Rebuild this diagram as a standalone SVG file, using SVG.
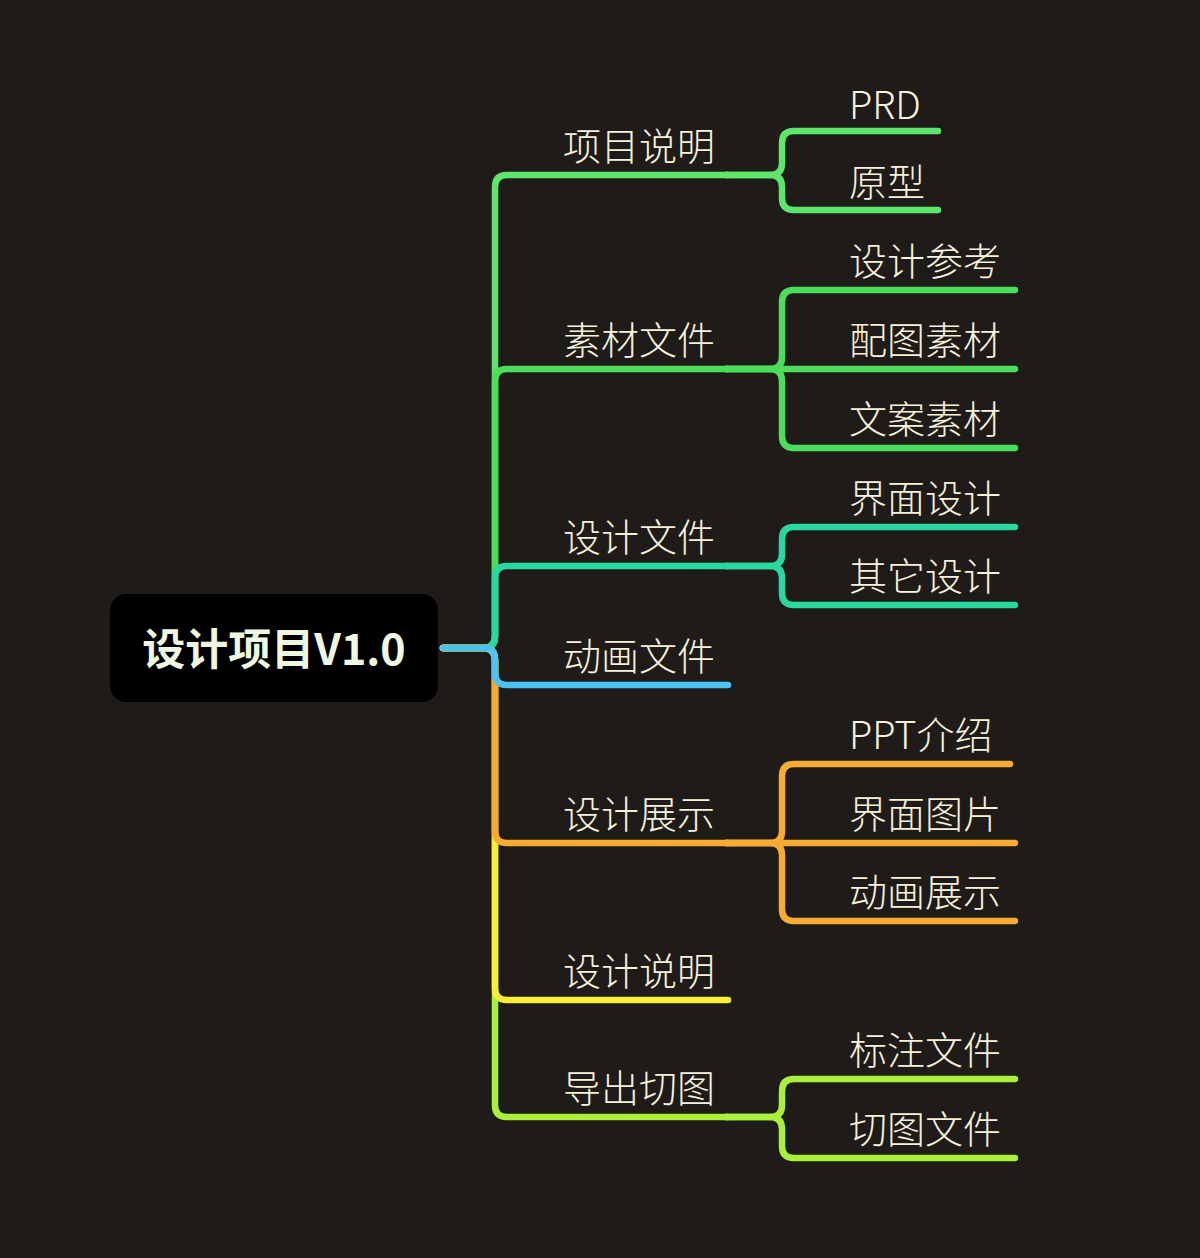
<svg xmlns="http://www.w3.org/2000/svg" width="1200" height="1258" viewBox="0 0 1200 1258">
<style>
.c{fill:none;stroke-width:6.5;stroke-linecap:round;stroke-linejoin:round}
.t{font-family:"Noto Sans CJK SC","Noto Sans",sans-serif;font-size:38px;font-weight:300;fill:#f7f2dc}
.root{font-family:"Noto Sans CJK SC","Noto Sans",sans-serif;font-size:43px;font-weight:bold;fill:#eef8e0}
.g1{stroke:#5ee66c}.g2{stroke:#4ddd5c}.g3{stroke:#28d8a0}.g4{stroke:#4cc2f5}.g5{stroke:#f8ab33}.g6{stroke:#f8ee3a}.g7{stroke:#a8f03c}
</style>
<rect width="1200" height="1258" fill="#1f1b19"/>
<g id="connectors">
<path class="c g1" d="M443 648 H483 Q495 648 495 636 V187 Q495 175 507 175 H728"/>
<path class="c g2" d="M443 648 H483 Q495 648 495 636 V381 Q495 369 507 369 H728"/>
<path class="c g3" d="M443 648 H483 Q495 648 495 636 V578 Q495 566 507 566 H728"/>
<path class="c g7" d="M443 648 H483 Q495 648 495 660 V1105 Q495 1117 507 1117 H728"/>
<path class="c g6" d="M443 648 H483 Q495 648 495 660 V988 Q495 1000 507 1000 H728"/>
<path class="c g5" d="M443 648 H483 Q495 648 495 660 V831 Q495 843 507 843 H728"/>
<path class="c g4" d="M443 648 H483 Q495 648 495 660 V673 Q495 685 507 685 H728"/>
<path class="c g1" d="M726 175 H770 Q782 175 782 163 V143 Q782 131 794 131 H938"/>
<path class="c g1" d="M726 175 H770 Q782 175 782 187 V198 Q782 210 794 210 H938"/>
<path class="c g2" d="M726 369 H770 Q782 369 782 357 V302 Q782 290 794 290 H1015"/>
<path class="c g2" d="M726 369 H1015"/>
<path class="c g2" d="M726 369 H770 Q782 369 782 381 V436 Q782 448 794 448 H1015"/>
<path class="c g3" d="M726 566 H770 Q782 566 782 554 V539 Q782 527 794 527 H1015"/>
<path class="c g3" d="M726 566 H770 Q782 566 782 578 V593 Q782 605 794 605 H1015"/>
<path class="c g5" d="M726 843 H770 Q782 843 782 831 V776 Q782 764 794 764 H1010"/>
<path class="c g5" d="M726 843 H1015"/>
<path class="c g5" d="M726 843 H770 Q782 843 782 855 V909 Q782 921 794 921 H1015"/>
<path class="c g7" d="M726 1117 H770 Q782 1117 782 1105 V1091 Q782 1079 794 1079 H1015"/>
<path class="c g7" d="M726 1117 H770 Q782 1117 782 1129 V1146 Q782 1158 794 1158 H1015"/>
</g>
<g id="root">
<rect x="110" y="594" width="328" height="108" rx="16" fill="#000"/>
<text class="root" x="274" y="665" text-anchor="middle">设计项目V1.0</text>
</g>
<g id="n-xmsm"><text class="t" x="563" y="160">项目说明</text></g>
<g id="n-prd"><text class="t" x="849" y="119">PRD</text></g>
<g id="n-yx"><text class="t" x="849" y="196">原型</text></g>
<g id="n-scwj"><text class="t" x="563" y="354">素材文件</text></g>
<g id="n-sjck"><text class="t" x="849" y="275">设计参考</text></g>
<g id="n-ptsc"><text class="t" x="849" y="354">配图素材</text></g>
<g id="n-wasc"><text class="t" x="849" y="433">文案素材</text></g>
<g id="n-sjwj"><text class="t" x="563" y="551">设计文件</text></g>
<g id="n-jmsj"><text class="t" x="849" y="512">界面设计</text></g>
<g id="n-qtsj"><text class="t" x="849" y="590">其它设计</text></g>
<g id="n-dhwj"><text class="t" x="563" y="670">动画文件</text></g>
<g id="n-sjzs"><text class="t" x="563" y="828">设计展示</text></g>
<g id="n-ppt"><text class="t" x="849" y="749">PPT介绍</text></g>
<g id="n-jmtp"><text class="t" x="849" y="828">界面图片</text></g>
<g id="n-dhzs"><text class="t" x="849" y="906">动画展示</text></g>
<g id="n-sjsm"><text class="t" x="563" y="985">设计说明</text></g>
<g id="n-dcqt"><text class="t" x="563" y="1102">导出切图</text></g>
<g id="n-bzwj"><text class="t" x="849" y="1064">标注文件</text></g>
<g id="n-qtwj"><text class="t" x="849" y="1143">切图文件</text></g>
</svg>
